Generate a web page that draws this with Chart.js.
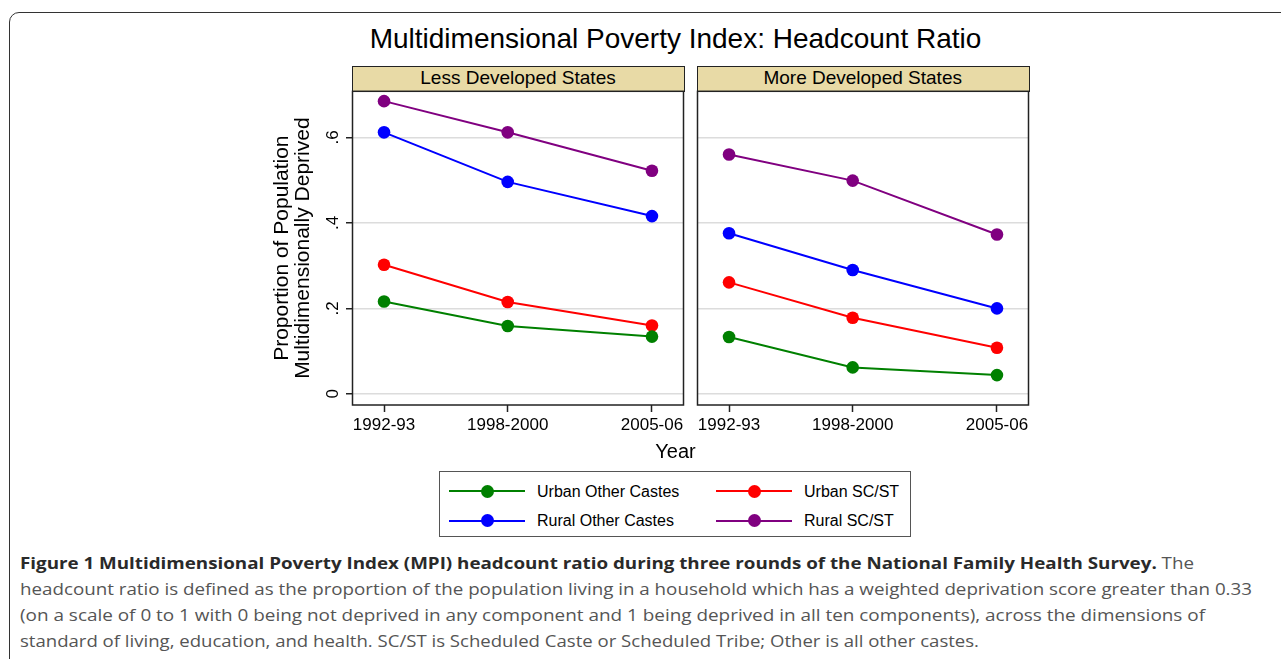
<!DOCTYPE html>
<html>
<head>
<meta charset="utf-8">
<script src="https://cdn.jsdelivr.net/npm/chart.js@4.4.1/dist/chart.umd.min.js"></script>
<style>
  body { margin: 0; background: #fff; font-family: "Liberation Sans", Arial, sans-serif; color: #000; }
  #page { position: relative; width: 1281px; height: 659px; overflow: hidden; }
  #frame { position: absolute; left: 9px; top: 12px; width: 1320px; height: 720px;
           border: 1.5px solid #333; border-radius: 10px; }
  .txt { position: absolute; white-space: nowrap; line-height: 1; transform-origin: 0 0; }
  .strip { position: absolute; top: 65.5px; height: 26px; box-sizing: border-box;
           background: #e8daa6; border: 1.5px solid #222; }
  canvas { position: absolute; }
  #legend { position: absolute; left: 439px; top: 471px; width: 472px; height: 66px;
            box-sizing: border-box; border: 1.2px solid #555; }
  .lg-line { position: absolute; height: 2px; }
  .lg-dot { position: absolute; width: 13px; height: 13px; border-radius: 50%; }
  .cap { font-family: "Open Sans", sans-serif; font-size: 16px; color: #555; }
  .cap b { color: #2a2a2a; }
</style>
</head>
<body>
<div id="page">
  <div id="frame"></div>

  <div class="txt" id="title" style="font-size:28px; top:25.3px;">Multidimensional Poverty Index: Headcount Ratio</div>

  <div class="strip" style="left:352px; width:332.5px;"></div>
  <div class="strip" style="left:697px; width:332.5px;"></div>
  <div class="txt" id="head0" style="font-size:19px; top:68px;"></div>
  <div class="txt" id="head1" style="font-size:19px; top:68px;"></div>

  <canvas id="lessChart" width="440" height="360" style="left:250px; top:85px;"></canvas>
  <canvas id="moreChart" width="350" height="360" style="left:690px; top:85px;"></canvas>

  <div class="txt" id="xTitle" style="font-size:20px; top:441px;">Year</div>

  <div id="legend"></div>

  <div class="txt cap" id="cap0" style="left:20px; top:554.8px;"><b>Figure 1 Multidimensional Poverty Index (MPI) headcount ratio during three rounds of the National Family Health Survey.</b> The</div>
  <div class="txt cap" id="cap1" style="left:20px; top:581.3px;">headcount ratio is defined as the proportion of the population living in a household which has a weighted deprivation score greater than 0.33</div>
  <div class="txt cap" id="cap2" style="left:20px; top:607.3px;">(on a scale of 0 to 1 with 0 being not deprived in any component and 1 being deprived in all ten components), across the dimensions of</div>
  <div class="txt cap" id="cap3" style="left:20px; top:632.8px;">standard of living, education, and health. SC/ST is Scheduled Caste or Scheduled Tribe; Other is all other castes.</div>
</div>

<script>
// survey rounds (NFHS-1, NFHS-2, NFHS-3) placed at their starting year
var rounds = ['1992-93', '1998-2000', '2005-06'];
var roundYears = [1992, 1998, 2005];

var panelNames = ['Less Developed States', 'More Developed States'];
var seriesNames = ['Urban Other Castes', 'Urban SC/ST', 'Rural Other Castes', 'Rural SC/ST'];
var seriesColors = ['#008000', '#ff0000', '#0000ff', '#800080'];

// headcount ratio, less developed states
var lessUrbanOther = [0.216, 0.159, 0.134];
var lessUrbanSCST  = [0.302, 0.215, 0.160];
var lessRuralOther = [0.612, 0.496, 0.416];
var lessRuralSCST  = [0.685, 0.612, 0.522];

// headcount ratio, more developed states
var moreUrbanOther = [0.133, 0.062, 0.044];
var moreUrbanSCST  = [0.261, 0.178, 0.108];
var moreRuralOther = [0.376, 0.290, 0.200];
var moreRuralSCST  = [0.560, 0.499, 0.373];

var yTicks = [0, 0.2, 0.4, 0.6];
var yTickLabels = ['0', '.2', '.4', '.6'];
var yTitle = ['Proportion of Population', 'Multidimensionally Deprived'];

var FONT = '"Liberation Sans", Arial, sans-serif';

// squeeze/stretch a text element horizontally to span a given width
function fitWidth(el, w) {
  var natural = el.getBoundingClientRect().width;
  el.style.transform = 'scaleX(' + (w / natural) + ')';
}
function centerAt(el, cx) {
  var w = el.getBoundingClientRect().width;
  el.style.left = (cx - w / 2) + 'px';
}

// plot region outline
var plotBox = {
  id: 'plotBox',
  beforeDatasetsDraw: function (chart) {
    var a = chart.chartArea, ctx = chart.ctx;
    ctx.save();
    ctx.strokeStyle = '#222';
    ctx.lineWidth = 1.5;
    ctx.strokeRect(a.left, a.top, a.right - a.left, a.bottom - a.top);
    ctx.restore();
  }
};

// y tick labels written vertically, like the axis title
var verticalYLabels = {
  id: 'verticalYLabels',
  afterDraw: function (chart) {
    var s = chart.scales.y, ctx = chart.ctx;
    ctx.save();
    ctx.font = '17px ' + FONT;
    ctx.fillStyle = '#000';
    ctx.textAlign = 'center';
    ctx.textBaseline = 'middle';
    yTicks.forEach(function (v, i) {
      ctx.save();
      ctx.translate(chart.chartArea.left - 20, s.getPixelForValue(v));
      ctx.rotate(-Math.PI / 2);
      ctx.fillText(yTickLabels[i], 0, 1);
      ctx.restore();
    });
    ctx.restore();
  }
};

function makePanel(id, series, withAxis) {
  var datasets = series.map(function (vals, i) {
    return {
      label: seriesNames[i],
      data: vals.map(function (v, j) { return { x: roundYears[j], y: v }; }),
      borderColor: seriesColors[i],
      backgroundColor: seriesColors[i],
      borderWidth: 2,
      pointRadius: 6.3,
      pointBorderWidth: 0,
      pointHoverRadius: 6.3,
      tension: 0
    };
  });

  return new Chart(document.getElementById(id), {
    type: 'line',
    data: { datasets: datasets },
    options: {
      responsive: false,
      animation: false,
      events: [],
      layout: { padding: { top: 6, right: withAxis ? 6.5 : 11.5, left: 0, bottom: 0 } },
      plugins: { legend: { display: false }, tooltip: { enabled: false } },
      scales: {
        x: {
          type: 'linear',
          min: 1990.47,
          max: 2006.53,
          afterBuildTicks: function (s) {
            s.ticks = roundYears.map(function (v) { return { value: v }; });
          },
          ticks: {
            autoSkip: false,
            maxRotation: 0,
            padding: 3,
            color: '#000',
            font: { size: 17, family: FONT },
            callback: function (v) { return rounds[roundYears.indexOf(v)]; }
          },
          grid: { drawOnChartArea: false, tickLength: 7, tickColor: '#222', tickWidth: 1.5 },
          border: { display: false },
          afterFit: function (s) { s.height = 40; }
        },
        y: {
          min: -0.026,
          max: 0.708,
          afterBuildTicks: function (s) {
            s.ticks = yTicks.map(function (v) { return { value: v }; });
          },
          ticks: { display: false },
          grid: { color: '#dcdcdc', lineWidth: 1.5, drawTicks: withAxis, tickLength: 6.5,
                  tickColor: '#222', tickWidth: 1.5 },
          border: { display: false },
          title: {
            display: withAxis,
            text: yTitle,
            color: '#000',
            font: { size: 21, family: FONT, lineHeight: 1 },
            padding: { top: 21.5, bottom: 0 }
          },
          afterFit: function (s) { s.width = withAxis ? 102.5 : 7.5; }
        }
      }
    },
    plugins: withAxis ? [plotBox, verticalYLabels] : [plotBox]
  });
}

makePanel('lessChart', [lessUrbanOther, lessUrbanSCST, lessRuralOther, lessRuralSCST], true);
makePanel('moreChart', [moreUrbanOther, moreUrbanSCST, moreRuralOther, moreRuralSCST], false);

// strip headings
var head0 = document.getElementById('head0'), head1 = document.getElementById('head1');
head0.textContent = panelNames[0];
head1.textContent = panelNames[1];
centerAt(head0, 518);
centerAt(head1, 862.7);

var title = document.getElementById('title');
centerAt(title, 675.5);
centerAt(document.getElementById('xTitle'), 675.5);

// legend: two columns, two rows
var legend = document.getElementById('legend');
var legendPos = [[0, 0], [1, 0], [0, 1], [1, 1]];
seriesNames.forEach(function (name, i) {
  var col = legendPos[i][0], row = legendPos[i][1];
  var x0 = col === 0 ? 9 : 276;
  var cy = row === 0 ? 19 : 48.5;
  var line = document.createElement('div');
  line.className = 'lg-line';
  line.style.cssText = 'left:' + x0 + 'px; top:' + (cy - 1) + 'px; width:76px; background:' + seriesColors[i];
  var dot = document.createElement('div');
  dot.className = 'lg-dot';
  dot.style.cssText = 'left:' + (x0 + 31.5) + 'px; top:' + (cy - 6.5) + 'px; background:' + seriesColors[i];
  var label = document.createElement('div');
  label.className = 'txt';
  label.style.cssText = 'font-size:16px; left:' + (x0 + 88) + 'px; top:' + (cy - 7.5) + 'px;';
  label.textContent = name;
  legend.appendChild(line);
  legend.appendChild(dot);
  legend.appendChild(label);
});

// caption lines set to their column widths
fitWidth(document.getElementById('cap0'), 1174);
fitWidth(document.getElementById('cap1'), 1232);
fitWidth(document.getElementById('cap2'), 1185);
fitWidth(document.getElementById('cap3'), 959);
</script>
</body>
</html>
